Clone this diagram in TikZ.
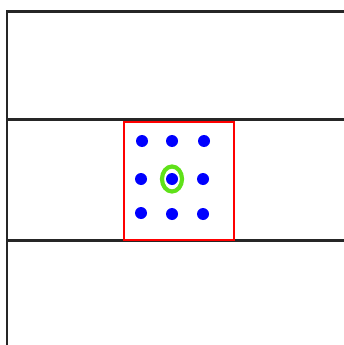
\documentclass[tikz,border=0pt]{standalone}
\usepackage{tikz}
\usetikzlibrary{calc}

\definecolor{ringgreen}{RGB}{95,225,25}

\tikzset{
    wall/.style={draw=black!85, line width=2.4pt},
    cell/.style={draw=red, line width=2pt},
    site/.style={circle, fill=blue, inner sep=0pt, minimum size=12pt},
    mark ring/.style={draw=ringgreen, line width=4.2pt}
}

\begin{document}
\begin{tikzpicture}[x=1pt, y=-1pt]
    \useasboundingbox (0, 0) rectangle (344, 345);

    \coordinate (TL) at (7, 11.5);
    \coordinate (TR) at (346, 11.5);
    \coordinate (BL) at (7, 347);

    % outer frame
    \draw[wall] (TR) -- (TL) -- (BL);

    % channel
    \draw[wall] (7, 119.5) -- (346, 119.5);
    \draw[wall] (7, 240.5) -- (346, 240.5);

    % cell
    \draw[cell] (123.5, 122) rectangle (233.5, 239.5);

    % sites
    \foreach \x/\y/\n in {142/141/a, 172/141/b, 204/141/c,
                          141/179/d, 172/179/e, 203/179/f,
                          141/213/g, 172/214/h, 203/214/i}
        \node[site] (\n) at (\x, \y) {};

    \draw[mark ring] (e) ellipse (10pt and 12.5pt);
\end{tikzpicture}
\end{document}
